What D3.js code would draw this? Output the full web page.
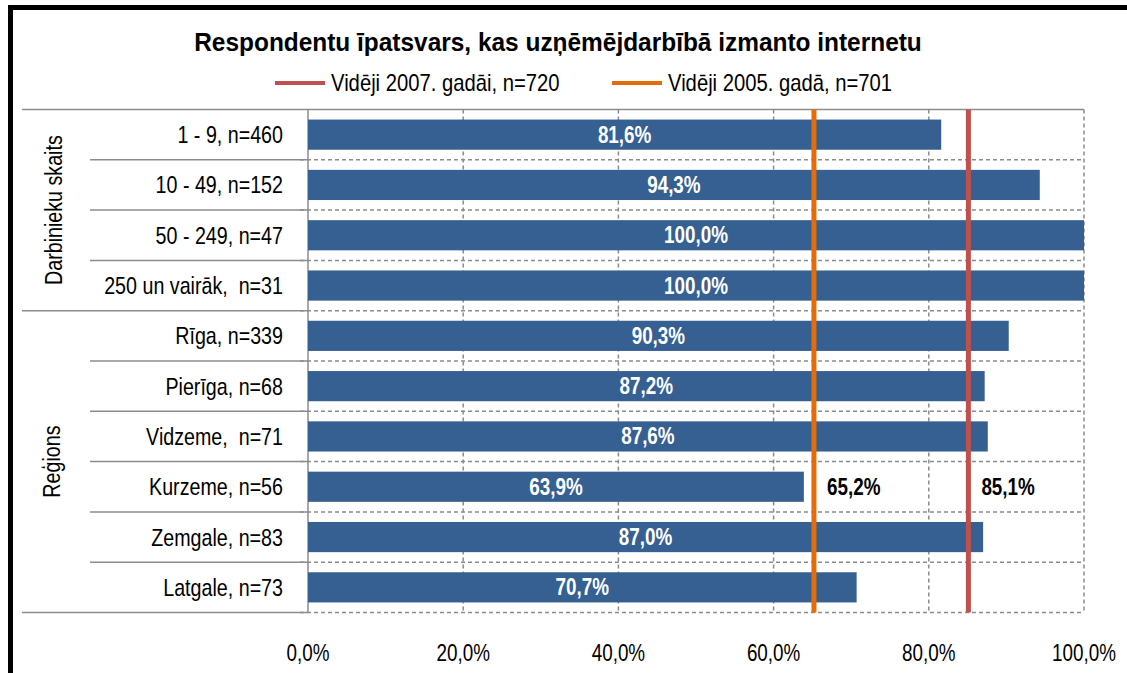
<!DOCTYPE html>
<html>
<head>
<meta charset="utf-8">
<script src="https://cdn.jsdelivr.net/npm/d3@7"></script>
<style>
  body { margin: 0; background: #fff; }
  svg { display: block; }
  text { font-family: "Liberation Sans", Arial, sans-serif; white-space: pre; }
</style>
</head>
<body>
<div id="chart"></div>
<script>
// dati
var categories = ['1 - 9, n=460', '10 - 49, n=152', '50 - 249, n=47', '250 un vairāk,  n=31',
  'Rīga, n=339', 'Pierīga, n=68', 'Vidzeme,  n=71', 'Kurzeme, n=56', 'Zemgale, n=83', 'Latgale, n=73'];
var values = [81.6, 94.3, 100.0, 100.0, 90.3, 87.2, 87.6, 63.9, 87.0, 70.7];
var groups = ['Darbinieku skaits', 'Reģions'];
var groupSizes = [4, 6];
var avgNames = ['Vidēji 2007. gadāi, n=720', 'Vidēji 2005. gadā, n=701'];
var avgValues = [85.1, 65.2];
var avgColors = ['#C0504D', '#E46C0A'];
var ticks = [0, 20, 40, 60, 80, 100];

var width = 1127, height = 673;
var plotL = 308, plotR = 1084, plotT = 109.5, plotB = 612.5;
var narrow = 0.82; // šaurais fonts
var fmt = function (v) { return v.toFixed(1).replace('.', ',') + '%'; };
var tr = function (px, py, rot, k) {
  return 'translate(' + px + ',' + py + ')' + (rot ? ' rotate(' + rot + ')' : '') +
    ' scale(' + (k || narrow) + ',1)';
};

var svg = d3.select('#chart').append('svg')
  .attr('width', width)
  .attr('height', height);

// rāmis
svg.append('rect')
  .attr('x', 10.5).attr('y', 7.5)
  .attr('width', 1300).attr('height', 900)
  .attr('fill', 'none')
  .attr('stroke', '#000')
  .attr('stroke-width', 5);

var x = d3.scaleLinear().domain([0, 100]).range([plotL, plotR]);
var y = d3.scaleBand().domain(categories).range([plotT, plotB])
  .paddingInner(0.4).paddingOuter(0.2);
var step = y.step();
var rowTop = function (i) { return plotT + i * step; };

// režģis
svg.append('g').selectAll('line')
  .data(ticks.slice(1))
  .enter().append('line')
  .attr('x1', function (d) { return x(d); })
  .attr('x2', function (d) { return x(d); })
  .attr('y1', plotT).attr('y2', plotB)
  .attr('stroke', '#8c8c8c')
  .attr('stroke-width', 1.5)
  .attr('stroke-dasharray', '4,3');

svg.append('g').selectAll('line')
  .data(d3.range(1, categories.length + 1))
  .enter().append('line')
  .attr('x1', plotL - 8).attr('x2', plotR)
  .attr('y1', function (i) { return rowTop(i); })
  .attr('y2', function (i) { return rowTop(i); })
  .attr('stroke', '#8c8c8c')
  .attr('stroke-width', 1.5)
  .attr('stroke-dasharray', '4,3');

// kreisā tabula
var bounds = [0, groupSizes[0], groupSizes[0] + groupSizes[1]];
svg.append('g').selectAll('line')
  .data(d3.range(0, categories.length + 1))
  .enter().append('line')
  .attr('x1', function (i) { return bounds.indexOf(i) >= 0 ? 22 : 90; })
  .attr('x2', plotL)
  .attr('y1', function (i) { return rowTop(i); })
  .attr('y2', function (i) { return rowTop(i); })
  .attr('stroke', '#8c8c8c')
  .attr('stroke-width', 1.5);

svg.append('line')
  .attr('x1', plotL).attr('x2', plotR)
  .attr('y1', plotT).attr('y2', plotT)
  .attr('stroke', '#8c8c8c').attr('stroke-width', 1.5);

svg.append('line')
  .attr('x1', plotL).attr('x2', plotL)
  .attr('y1', plotT).attr('y2', plotB)
  .attr('stroke', '#8c8c8c').attr('stroke-width', 1.5);

// stabiņi
svg.append('g').selectAll('rect')
  .data(values)
  .enter().append('rect')
  .attr('x', x(0))
  .attr('y', function (d, i) { return y(categories[i]); })
  .attr('width', function (d) { return x(d) - x(0); })
  .attr('height', y.bandwidth())
  .attr('fill', '#366092');

svg.append('g').selectAll('text')
  .data(values)
  .enter().append('text')
  .attr('transform', function (d, i) {
    return tr((x(0) + x(d)) / 2, y(categories[i]) + y.bandwidth() / 2 + 8);
  })
  .attr('text-anchor', 'middle')
  .attr('fill', '#fff')
  .attr('font-weight', 'bold')
  .attr('font-size', 23)
  .text(fmt);

// vidējās līnijas
svg.append('g').selectAll('line')
  .data(avgValues)
  .enter().append('line')
  .attr('x1', function (d) { return x(d); })
  .attr('x2', function (d) { return x(d); })
  .attr('y1', plotT).attr('y2', plotB)
  .attr('stroke', function (d, i) { return avgColors[i]; })
  .attr('stroke-width', 5);

svg.append('g').selectAll('text')
  .data(avgValues)
  .enter().append('text')
  .attr('transform', function (d) {
    return tr(x(d) + 13, y(categories[7]) + y.bandwidth() / 2 + 8);
  })
  .attr('font-weight', 'bold')
  .attr('font-size', 23)
  .attr('fill', '#000')
  .text(fmt);

// kategoriju nosaukumi
svg.append('g').selectAll('text')
  .data(categories)
  .enter().append('text')
  .attr('transform', function (d) { return tr(283, y(d) + y.bandwidth() / 2 + 8.5); })
  .attr('text-anchor', 'end')
  .attr('font-size', 24)
  .attr('fill', '#000')
  .text(function (d) { return d; });

// grupas
svg.append('g').selectAll('text')
  .data(groups)
  .enter().append('text')
  .attr('transform', function (d, i) {
    var cy = (rowTop(bounds[i]) + rowTop(bounds[i + 1])) / 2;
    return tr(i === 0 ? 62 : 60, cy, -90);
  })
  .attr('text-anchor', 'middle')
  .attr('font-size', 24)
  .attr('fill', '#000')
  .text(function (d) { return d; });

// x ass
svg.append('g').selectAll('text')
  .data(ticks)
  .enter().append('text')
  .attr('transform', function (d) { return tr(x(d), 661); })
  .attr('text-anchor', 'middle')
  .attr('font-size', 23)
  .attr('fill', '#000')
  .text(function (d) { return d.toFixed(1).replace('.', ',') + '%'; });

// virsraksts
svg.append('text')
  .attr('transform', tr(558, 51, 0, 0.94))
  .attr('text-anchor', 'middle')
  .attr('font-weight', 'bold')
  .attr('font-size', 26)
  .attr('fill', '#000')
  .text('Respondentu īpatsvars, kas uzņēmējdarbībā izmanto internetu');

// leģenda
var legendX = [275, 612];
var legend = svg.append('g').selectAll('g')
  .data(avgNames)
  .enter().append('g')
  .attr('transform', function (d, i) { return 'translate(' + legendX[i] + ',83)'; });
legend.append('line')
  .attr('x1', 0).attr('x2', 50)
  .attr('stroke', function (d, i) { return avgColors[i]; })
  .attr('stroke-width', 4);
legend.append('text')
  .attr('transform', tr(56, 8, 0, 0.88))
  .attr('font-size', 23)
  .attr('fill', '#000')
  .text(function (d) { return d; });
</script>
</body>
</html>
